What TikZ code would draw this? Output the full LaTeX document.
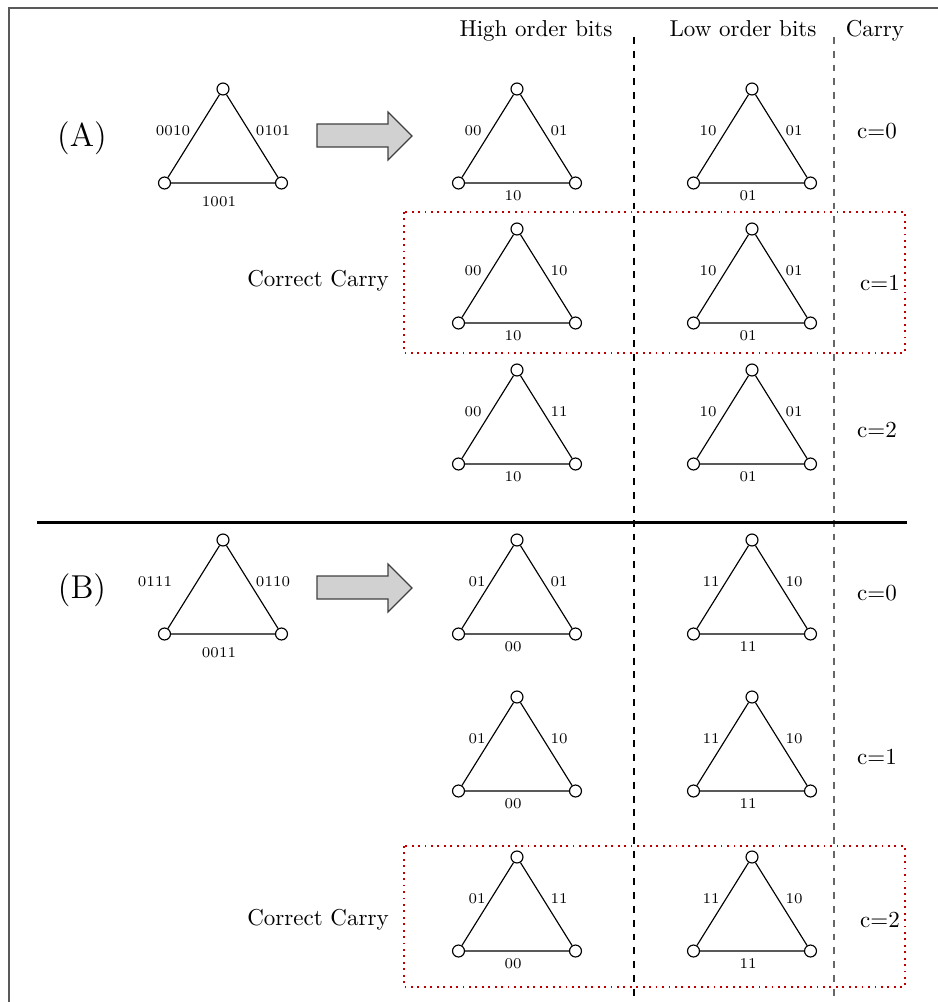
\documentclass[tikz,border=0pt]{standalone}
\usetikzlibrary{calc}
\tikzset{
 vtx/.style={circle,draw,line width=0.5pt,minimum size=5.2pt,inner sep=0pt,fill=white},
 edgeline/.style={line width=0.5pt},
 elab/.style={font=\fontsize{6.5}{7.5}\selectfont,inner sep=0pt},
 hdr/.style={font=\normalsize,anchor=base},
 carrylab/.style={font=\normalsize},
 biglab/.style={font=\Large},
 carrybox/.style={draw=red!75!black,dotted,line width=0.8pt},
 colsep/.style={dashed,line width=0.5pt},
 colsepgray/.style={dashed,line width=0.7pt,draw=black!60},
 bigarrow/.style={draw=black!75,fill=black!18,line width=0.5pt},
 frameline/.style={draw=black!65,line width=0.7pt},
 sepline/.style={line width=1.3pt},
}
% name, cx, ty, left, right, bottom, dxL, dxR, dyB
\newcommand\tri[9]{%
 \node[vtx] (#1t) at (#2,#3) {};
 \node[vtx] (#1l) at ({#2-58.5},{#3+94}) {};
 \node[vtx] (#1r) at ({#2+58.5},{#3+94}) {};
 \draw[edgeline] (#1t) -- (#1l) -- (#1r) -- (#1t);
 \node[elab] (#1a) at ({#2+(#7)},{#3+42}) {#4};
 \node[elab] (#1b) at ({#2+(#8)},{#3+42}) {#5};
 \node[elab] (#1c) at ({#2-4},{#3+(#9)}) {#6};
}
\begin{document}
\begin{tikzpicture}[x=0.435pt,y=-0.435pt]
\useasboundingbox (0,0) rectangle (938,1002);
% frame (cropped)
\draw[frameline] (9,1002) -- (9,8) -- (938,8);
% headers
\node[hdr] (hh) at (536,36) {High order bits};
\node[hdr] (hl) at (743,36) {Low order bits};
\node[hdr] (hc) at (875,36) {Carry};
% column separators
\coordinate (s1t) at (634,37); \coordinate (s1b) at (634,1002);
\coordinate (s2t) at (834,37); \coordinate (s2b) at (834,1002);
\draw[colsep] (s1t) -- (s1b);
\draw[colsepgray] (s2t) -- (s2b);
% carry boxes
\draw[carrybox] (404,212) rectangle (905,353);
\draw[carrybox] (404,846) rectangle (905,987);
% separator
\coordinate (hl1) at (37,522); \coordinate (hl2) at (907,522);
\draw[sepline] (hl1) -- (hl2);
% (A)
\node[biglab] (la) at (82,138) {(A)};
\tri{oA}{223}{89}{0010}{0101}{1001}{-50}{50}{113}
\draw[bigarrow] (317,124) -- (388,124) -- (388,112) -- (412,136) -- (388,160) -- (388,147) -- (317,147) -- cycle;
\tri{hA0}{517}{89}{00}{01}{10}{-44}{42}{107}
\tri{lA0}{752}{89}{10}{01}{01}{-44}{42}{107}
\node[carrylab] (cA0) at (877,131) {c=0};
\node[carrylab] (ccA) at (318,281) {Correct Carry};
\tri{hA1}{517}{229}{00}{10}{10}{-44}{42}{107}
\tri{lA1}{752}{229}{10}{01}{01}{-44}{42}{107}
\node[carrylab] (cA1) at (880,283) {c=1};
\tri{hA2}{517}{370}{00}{11}{10}{-44}{42}{107}
\tri{lA2}{752}{370}{10}{01}{01}{-44}{42}{107}
\node[carrylab] (cA2) at (877,430) {c=2};
% (B)
\node[biglab] (lb) at (82,590) {(B)};
\tri{oB}{223}{540}{0111}{0110}{0011}{-68}{50}{113}
\draw[bigarrow] (317,576) -- (388,576) -- (388,564) -- (412,588) -- (388,612) -- (388,599) -- (317,599) -- cycle;
\tri{hB0}{517}{540}{01}{01}{00}{-40}{42}{107}
\tri{lB0}{752}{540}{11}{10}{11}{-41}{42}{107}
\node[carrylab] (cB0) at (877,593) {c=0};
\tri{hB1}{517}{697}{01}{10}{00}{-40}{42}{107}
\tri{lB1}{752}{697}{11}{10}{11}{-41}{42}{107}
\node[carrylab] (cB1) at (877,757) {c=1};
\node[carrylab] (ccB) at (318,920) {Correct Carry};
\tri{hB2}{517}{857}{01}{11}{00}{-40}{42}{107}
\tri{lB2}{752}{857}{11}{10}{11}{-41}{42}{107}
\node[carrylab] (cB2) at (880,920) {c=2};
\end{tikzpicture}
\end{document}
